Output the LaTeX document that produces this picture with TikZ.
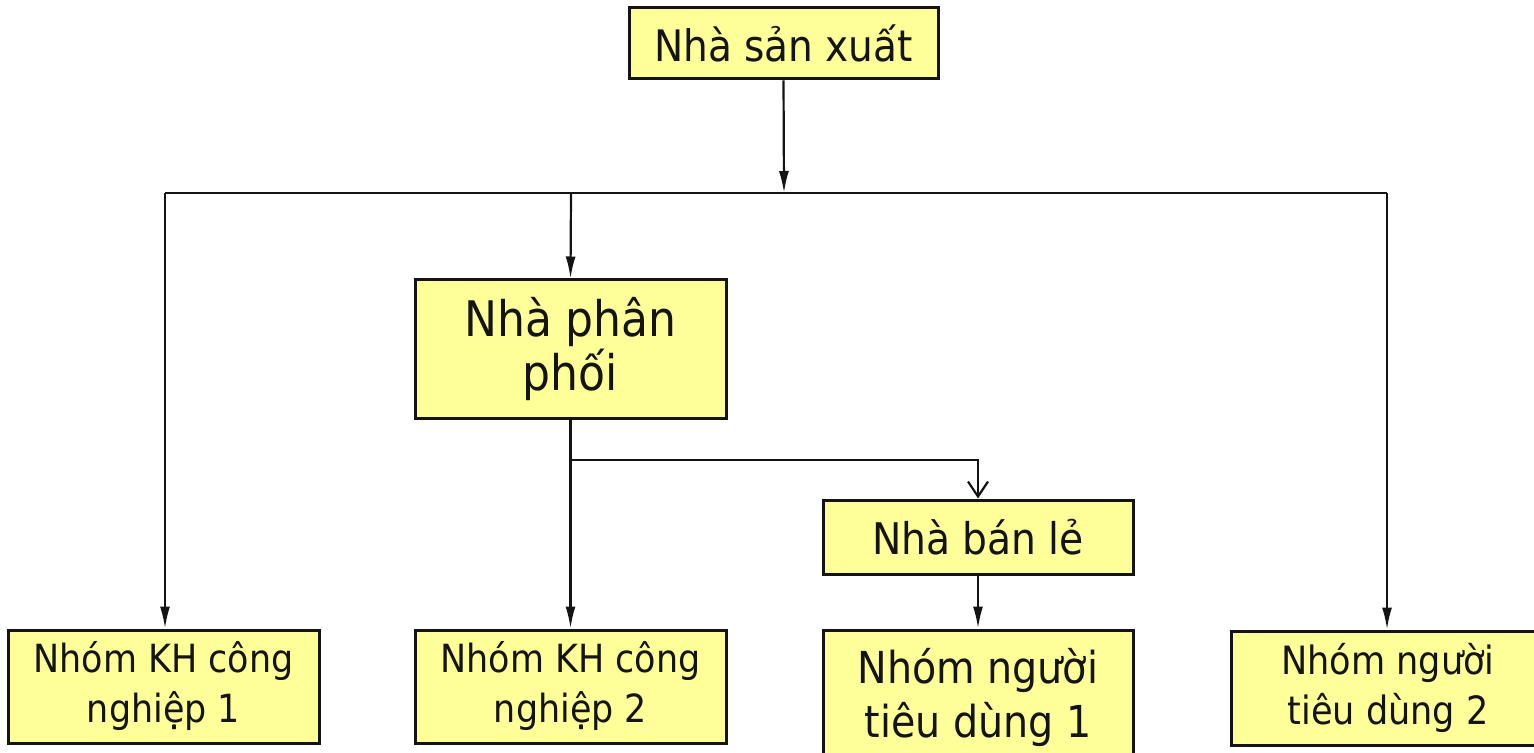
\documentclass[tikz,border=0pt]{standalone}
\usepackage{fontspec}
\setmainfont{DejaVu Sans Condensed}
\usetikzlibrary{arrows.meta}
\definecolor{boxfill}{HTML}{FFFF99}
\definecolor{ink}{HTML}{141414}
\tikzset{
  box/.style={draw=ink, line width=1.5pt, fill=boxfill, align=center,
    inner sep=0pt, text=ink},
  wire/.style={draw=ink, line width=1.1pt},
  link/.style={wire, -{Latex[length=11pt,width=5pt]}},
  openlink/.style={wire, -{Straight Barb[length=7.5pt,width=10pt]}},
}
\begin{document}
\begin{tikzpicture}[x=0.5pt,y=-0.5pt]
\useasboundingbox (0,0) rectangle (1534,753);

% boxes
\node[box, minimum width=154.5pt, minimum height=35.5pt,
  font=\fontsize{21.7}{24}\selectfont] (prod) at (783.5,43.5) {Nhà sản xuất};
\node[box, minimum width=155.5pt, minimum height=69pt,
  font=\fontsize{24.5}{27}\selectfont] (dist) at (570.5,349) {Nhà phân\\phối};
\node[box, minimum width=155pt, minimum height=37pt,
  font=\fontsize{21.8}{24}\selectfont] (retail) at (978,537) {Nhà bán lẻ};
\node[box, minimum width=155.5pt, minimum height=56.5pt,
  font=\fontsize{19.4}{25}\selectfont] (ind1) at (163.5,686.5) {Nhóm KH công\\nghiệp 1};
\node[box, minimum width=155.5pt, minimum height=56.5pt,
  font=\fontsize{19.4}{25}\selectfont] (ind2) at (570.5,686.5) {Nhóm KH công\\nghiệp 2};
\node[box, minimum width=155pt, minimum height=67.5pt,
  font=\fontsize{22}{27}\selectfont] (cons1) at (978,697.5) {Nhóm người\\tiêu dùng 1};
\node[box, minimum width=157pt, minimum height=57pt,
  font=\fontsize{19.5}{25}\selectfont] (cons2) at (1388,688) {Nhóm người\\tiêu dùng 2};

% distribution bus
\coordinate (bus) at (784,193);
\coordinate (busL) at (165,193);
\coordinate (busM) at (571,193);
\coordinate (busR) at (1387,193);
\coordinate (split) at (571,460);

\draw[link] (prod.south) -- (bus);
\draw[wire] (busL) -- (busR);
\draw[link] (busL) -- (busL |- ind1.north);
\draw[link] (busM) -- (dist.north);
\draw[link] (busR) -- (busR |- cons2.north);
\draw[link] (dist.south) -- (ind2.north);
\draw[openlink] (split) -| (retail.north);
\draw[link] (retail.south) -- (cons1.north);
\end{tikzpicture}
\end{document}
